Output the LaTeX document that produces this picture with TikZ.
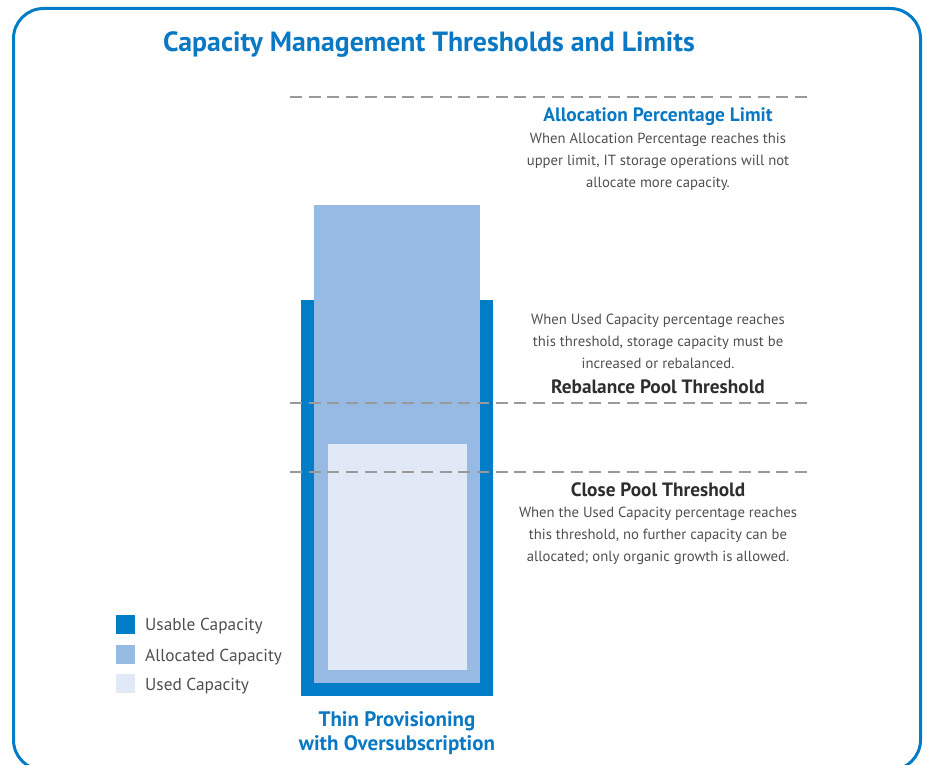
\documentclass[tikz,border=0pt]{standalone}
\usepackage{fontspec}
\setmainfont{PT Sans}
\definecolor{ibl}{HTML}{0A78C2}
\definecolor{usable}{HTML}{007DC6}
\definecolor{alloc}{HTML}{96BAE4}
\definecolor{used}{HTML}{E1E8F6}
\definecolor{dgray}{HTML}{9A9A9A}
\definecolor{btext}{HTML}{4F4F4F}
\definecolor{htext}{HTML}{2E2E2E}
\tikzset{
  px/.style={x=1pt,y=-1pt},
  thr/.style={draw=dgray,line width=2.4pt,dash pattern=on 12pt off 6.7pt},
  body/.style={text=btext,align=center,font=\fontsize{14.7}{22}\selectfont,inner sep=0pt},
  bhead/.style={text=ibl,font=\fontsize{19.4}{22}\selectfont\bfseries,inner sep=0pt},
  dhead/.style={text=htext,font=\fontsize{19.3}{22}\selectfont\bfseries,inner sep=0pt},
  leg/.style={text=btext,font=\fontsize{17.3}{20}\selectfont,anchor=west,inner sep=0pt},
  sq/.style={minimum size=19pt,inner sep=0pt,anchor=north west}
}
\begin{document}
\begin{tikzpicture}[px]
\useasboundingbox (0,0) rectangle (927,765);
\begin{scope}
\clip (0,0) rectangle (927,765);
\draw[usable,line width=3pt,rounded corners=30pt] (13.5,8.5) rectangle (920.5,770);
\end{scope}
\node[text=ibl,font=\fontsize{27.8}{30}\selectfont\bfseries,inner sep=0pt] (title) at (429,45) {Capacity Management Thresholds and Limits};
% bars
\fill[usable] (301,300) rectangle (493,696);
\fill[alloc] (314,205) rectangle (480,683);
\fill[used] (328,444) rectangle (467,670);
% thresholds
\coordinate (a1) at (290,97); \coordinate (a2) at (808,97);
\coordinate (r1) at (290,403); \coordinate (r2) at (808,403);
\coordinate (c1) at (290,472); \coordinate (c2) at (808,472);
\draw[thr] (a1) -- (a2);
\draw[thr] (r1) -- (r2);
\draw[thr] (c1) -- (c2);
% texts
\node[bhead] (aph) at (658,117) {Allocation Percentage Limit};
\node[body,anchor=north] (apb) at (658,133) {When Allocation Percentage reaches this\\upper limit, IT storage operations will not\\allocate more capacity.};
\node[body,anchor=north] (rpb) at (658,314) {When Used Capacity percentage reaches\\this threshold, storage capacity must be\\increased or rebalanced.};
\node[dhead] (rph) at (658,387) {Rebalance Pool Threshold};
\node[dhead] (cph) at (658,490) {Close Pool Threshold};
\node[body,anchor=north] (cpb) at (658,507) {When the Used Capacity percentage reaches\\this threshold, no further capacity can be\\allocated; only organic growth is allowed.};
% legend
\node[sq,fill=usable] (l1) at (116,615) {};
\node[sq,fill=alloc] (l2) at (116,645) {};
\node[sq,fill=used] (l3) at (116,674) {};
\node[leg] (t1) at (145,626) {Usable Capacity};
\node[leg] (t2) at (145,657) {Allocated Capacity};
\node[leg] (t3) at (145,686) {Used Capacity};
% caption
\node[text=ibl,align=center,font=\fontsize{21}{24}\selectfont\bfseries,inner sep=0pt] (cap) at (397,733) {Thin Provisioning\\with Oversubscription};
\end{tikzpicture}
\end{document}
